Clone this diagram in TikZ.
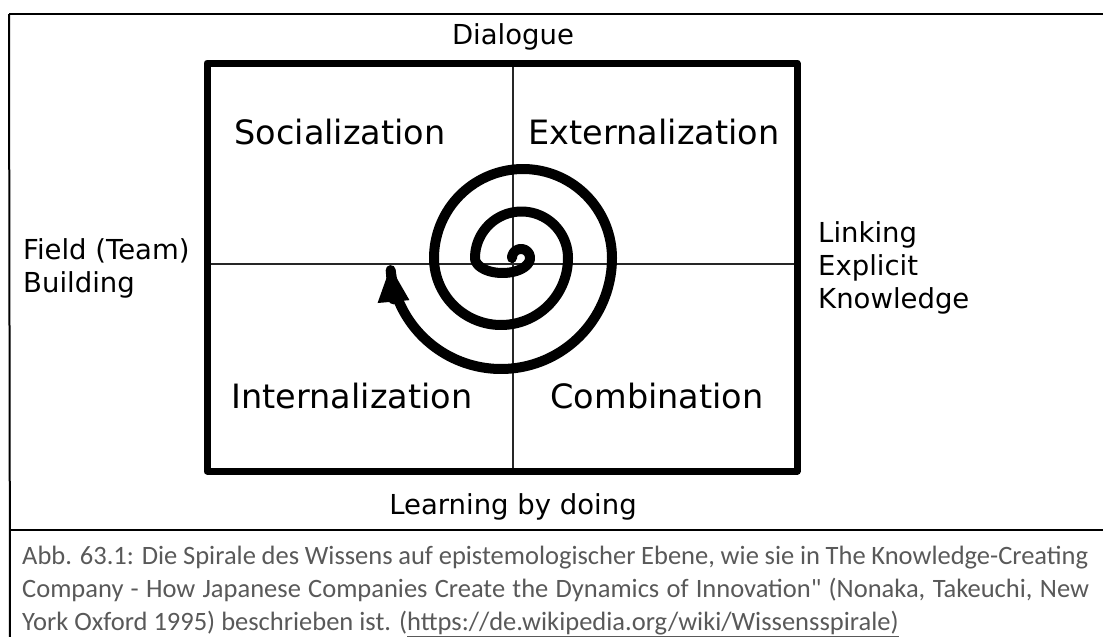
\documentclass[tikz,border=0pt]{standalone}
\usepackage{fontspec}
\setmainfont{DejaVu Sans}
\newfontfamily\capfont{Carlito}
\usetikzlibrary{arrows.meta,bending}
\definecolor{capgray}{HTML}{595959}

\begin{document}
\begin{tikzpicture}[x=1pt,y=-1pt,
  frameline/.style={line width=2.5pt},
  boxline/.style={line width=7pt,line join=round},
  divline/.style={line width=1.5pt,color=black!85},
  quadtext/.style={font=\fontsize{33.5}{40}\selectfont,anchor=base,inner sep=0},
  sidetext/.style={font=\fontsize{27.5}{33}\selectfont,inner sep=0},
  captext/.style={font=\capfont\fontsize{26.5}{33}\selectfont,text=capgray,anchor=base west,inner sep=0},
  spiral/.style={line width=10pt,line cap=round,line join=round}]
\useasboundingbox (0,0) rectangle (1103,637);
% outer frame and caption rule
\coordinate (frameTL) at (9,14);
\coordinate (frameTR) at (1103,14);
\coordinate (frameBL) at (10,637);
\coordinate (capL) at (9,530);
\coordinate (capR) at (1103,530);
\draw[frameline] (frameTL) -- (frameTR);
\draw[line width=2pt] (frameTL) -- (frameBL);
\draw[frameline] (capL) -- (capR);
% the four fields
\coordinate (boxNW) at (207,63);
\coordinate (boxSE) at (797,471);
\coordinate (midN) at (513,63);
\coordinate (midS) at (513,471);
\coordinate (midW) at (207,264);
\coordinate (midE) at (797,264);
\draw[divline] (midN) -- (midS);
\draw[divline] (midW) -- (midE);
\draw[boxline] (boxNW) rectangle (boxSE);
% spiral, half turns round two centres
\coordinate (spiralStart) at (512,258);
\draw[spiral,-{Triangle[length=36pt,width=29pt,flex]}] (spiralStart)
  -- plot[domain=180:360,samples=25] ({521+9*cos(\x)},{258+9*sin(\x)})
  -- plot[domain=0:180,samples=40] ({502.5+27.5*cos(\x)},{258+15*sin(\x)})
  -- plot[domain=180:360,samples=50] ({521.5+46.5*cos(\x)},{258+46.5*sin(\x)})
  -- plot[domain=0:180,samples=60] ({501+67*cos(\x)},{258+67*sin(\x)})
  -- plot[domain=180:360,samples=70] ({523+89*cos(\x)},{258+89*sin(\x)})
  -- plot[domain=0:176,samples=80] ({501+111*cos(\x)},{258+111*sin(\x)});
% labels
\node[quadtext] (social) at (340,144) {Socialization};
\node[quadtext] (extern) at (654,144) {Externalization};
\node[quadtext] (intern) at (352,408) {Internalization};
\node[quadtext] (combin) at (657,408) {Combination};
\node[sidetext,anchor=base] (dialog) at (513,44) {Dialogue};
\node[sidetext,anchor=base] (learn) at (513,514) {Learning by doing};
\node[sidetext,anchor=north west,align=left] (field) at (23,238) {Field (Team)\\Building};
\node[sidetext,anchor=north west,align=left] (link) at (818,221) {Linking\\Explicit\\Knowledge};
% caption
\node[captext] (capA) at (22,564) {\makebox[1066pt][s]{Abb. 63.1: Die Spirale des Wissens auf epistemologischer Ebene, wie sie in The Knowledge-Creating}};
\node[captext] (capB) at (22,597) {\makebox[1067pt][s]{Company - How Japanese Companies Create the Dynamics of Innovation" (Nonaka, Takeuchi, New}};
\node[captext] (capC) at (22,630) {York Oxford 1995) beschrieben ist. (\underline{https://de.wikipedia.org/wiki/Wissensspirale)}};
\end{tikzpicture}
\end{document}
